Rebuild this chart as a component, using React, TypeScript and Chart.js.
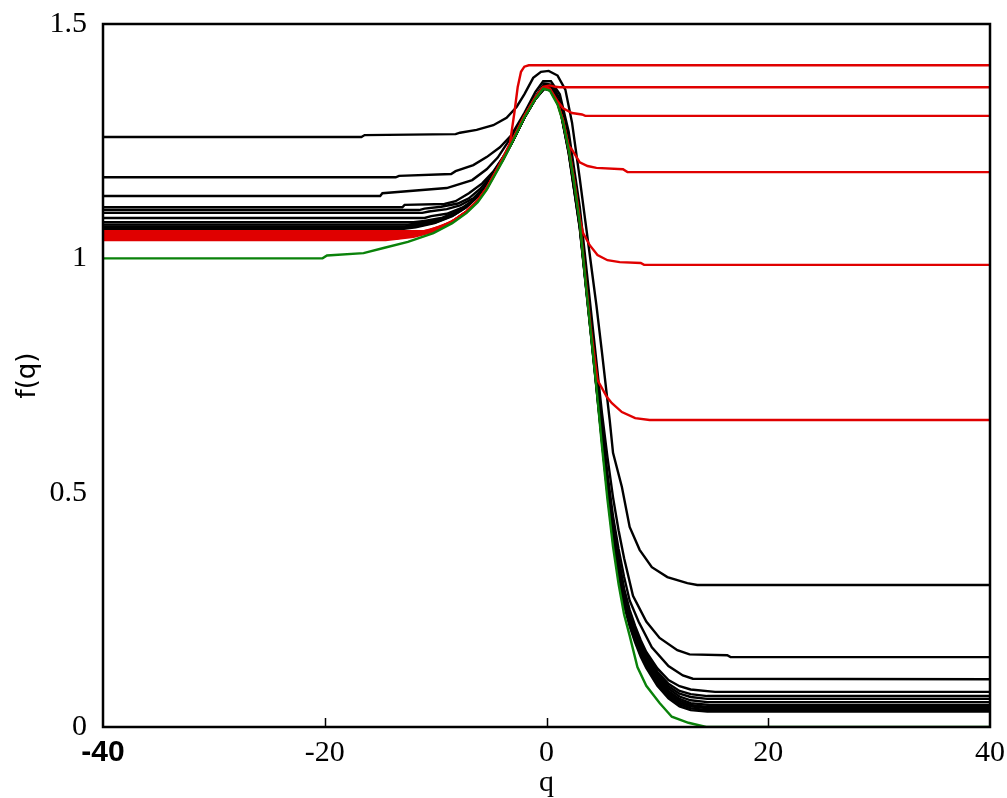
import React, { useEffect, useRef } from "react";
import { Chart, registerables } from "chart.js";

Chart.register(...registerables);

// ---- axis ranges and ticks ----
const X_MIN = -40;
const X_MAX = 40;
const X_STEP = 20;
const Y_MIN = 0;
const Y_MAX = 1.5;
const Y_STEP = 0.5;
const X_TITLE = "q";
const Y_TITLE = "f(q)";

// ---- series: [q, f(q)] ----
const greenCurve: number[][] = [
  [-40, 1.0], [-20.2, 1.0], [-19.8, 1.006], [-16.5, 1.011], [-14.7, 1.022], [-12.5, 1.035],
  [-10.2, 1.054], [-8.5, 1.075], [-7.2, 1.097], [-6.2, 1.12], [-5.4, 1.146], [-4.6, 1.18],
  [-3.9, 1.21], [-3, 1.252], [-2, 1.3], [-1, 1.34], [-0.3, 1.362], [0.3, 1.358], [1, 1.328],
  [1.5, 1.29], [2, 1.232], [2.5, 1.16], [3, 1.075], [3.5, 0.955], [4, 0.84], [4.5, 0.726],
  [5, 0.6], [5.5, 0.485], [6, 0.385], [6.5, 0.305], [7, 0.24], [7.5, 0.195], [8.2, 0.128],
  [9, 0.088], [10.2, 0.051], [11.3, 0.022], [12.8, 0.009], [14.4, 0], [40, 0],
];

const red1: number[][] = [
  [-40, 1.058], [-11, 1.058], [-9.5, 1.068], [-8.3, 1.082], [-7.2, 1.1], [-6.2, 1.124],
  [-5.4, 1.15], [-4.6, 1.184], [-3.9, 1.216], [-3.3, 1.245], [-2.9, 1.31], [-2.6, 1.365],
  [-2.3, 1.398], [-2.0, 1.409], [-1.6, 1.412], [40, 1.412],
];
const red2: number[][] = [
  [-40, 1.054], [-12, 1.054], [-10, 1.062], [-8.5, 1.078], [-7.2, 1.1], [-6.2, 1.123],
  [-5.4, 1.149], [-4.6, 1.183], [-3.9, 1.213], [-3, 1.255], [-2, 1.303], [-1, 1.343],
  [-0.3, 1.366], [0.3, 1.369], [0.8, 1.366], [1.2, 1.365], [40, 1.365],
];
const red3: number[][] = [
  [-40, 1.05], [-12.5, 1.05], [-10.5, 1.058], [-8.6, 1.077], [-7.2, 1.1], [-6.2, 1.123],
  [-5.4, 1.149], [-4.6, 1.183], [-3.9, 1.213], [-3, 1.255], [-2, 1.303], [-1, 1.343],
  [-0.3, 1.365], [0.3, 1.362], [1, 1.335], [1.5, 1.32], [2.3, 1.31], [3.2, 1.307],
  [3.5, 1.304], [40, 1.304],
];
const red4: number[][] = [
  [-40, 1.046], [-13, 1.046], [-10.7, 1.057], [-8.6, 1.077], [-7.2, 1.1], [-6.2, 1.123],
  [-5.4, 1.149], [-4.6, 1.183], [-3.9, 1.213], [-3, 1.255], [-2, 1.303], [-1, 1.343],
  [-0.3, 1.365], [0.3, 1.361], [1, 1.33], [1.5, 1.293], [2, 1.24], [2.3, 1.232],
  [3, 1.205], [3.7, 1.197], [4.5, 1.193], [6.9, 1.19], [7.3, 1.184], [40, 1.184],
];
const red5: number[][] = [
  [-40, 1.042], [-13.5, 1.042], [-11, 1.056], [-8.6, 1.077], [-7.2, 1.1], [-6.2, 1.123],
  [-5.4, 1.149], [-4.6, 1.183], [-3.9, 1.213], [-3, 1.255], [-2, 1.303], [-1, 1.343],
  [-0.3, 1.365], [0.3, 1.361], [1, 1.331], [1.5, 1.293], [2, 1.236], [2.5, 1.165],
  [3, 1.085], [3.3, 1.054], [3.9, 1.028], [4.6, 1.007], [5.5, 0.996], [6.6, 0.992],
  [8.5, 0.99], [8.8, 0.986], [40, 0.986],
];
const red6: number[][] = [
  [-40, 1.039], [-14.5, 1.039], [-12, 1.046], [-10.2, 1.057], [-8.6, 1.077], [-7.2, 1.1],
  [-6.2, 1.123], [-5.4, 1.149], [-4.6, 1.183], [-3.9, 1.213], [-3, 1.255], [-2, 1.303],
  [-1, 1.343], [-0.3, 1.365], [0.3, 1.361], [1, 1.331], [1.5, 1.293], [2, 1.236],
  [2.5, 1.165], [3, 1.08], [3.5, 0.962], [4, 0.85], [4.6, 0.74], [5.45, 0.704],
  [5.9, 0.691], [6.8, 0.672], [8, 0.659], [9.3, 0.655], [40, 0.655],
];

const black1: number[][] = [
  [-40, 1.259], [-16.7, 1.259], [-16.4, 1.263], [-8.2, 1.265], [-7.8, 1.268], [-6.3, 1.274],
  [-4.8, 1.284], [-3.6, 1.3], [-2.7, 1.323], [-2, 1.35], [-1.2, 1.385], [-0.5, 1.398],
  [0.2, 1.4], [1, 1.39], [1.7, 1.36], [2.3, 1.29], [3, 1.17], [3.5, 1.08], [4, 0.99],
  [4.5, 0.9], [5, 0.8], [5.7, 0.655], [6, 0.585], [6.8, 0.512], [7.5, 0.427], [8.4, 0.378],
  [9.5, 0.341], [10.9, 0.32], [12.7, 0.307], [13.6, 0.303], [40, 0.303],
];
const black2: number[][] = [
  [-40, 1.173], [-13.6, 1.173], [-13.3, 1.176], [-8.6, 1.18], [-8.2, 1.186], [-6.6, 1.199],
  [-5.4, 1.216], [-4.2, 1.237], [-3.2, 1.262], [-2, 1.31], [-1, 1.355], [-0.3, 1.378],
  [0.4, 1.378], [1.2, 1.35], [2, 1.27], [3, 1.11], [4, 0.89], [5, 0.67], [5.5, 0.575],
  [6, 0.49], [6.5, 0.42], [7, 0.36], [7.8, 0.28], [9, 0.225], [10.2, 0.19], [11.8, 0.164],
  [12.9, 0.155], [16.3, 0.153], [16.6, 0.149], [40, 0.149],
];
const black3: number[][] = [
  [-40, 1.133], [-15, 1.133], [-14.8, 1.139], [-9, 1.15], [-6.7, 1.167], [-5.4, 1.19],
  [-4.4, 1.215], [-3.2, 1.258], [-2, 1.305], [-1, 1.345], [-0.2, 1.373], [0.5, 1.37],
  [1.2, 1.34], [2, 1.255], [3, 1.095], [4, 0.87], [5, 0.645], [5.5, 0.54], [6, 0.45],
  [6.5, 0.38], [7, 0.32], [7.5, 0.27], [8.3, 0.225], [9.5, 0.17], [11, 0.13], [12.3, 0.11],
  [13.2, 0.103], [40, 0.102],
];
const black4: number[][] = [
  [-40, 1.109], [-13, 1.109], [-12.8, 1.114], [-9.2, 1.116], [-8.2, 1.122], [-7, 1.139],
  [-5.8, 1.16], [-4.8, 1.185], [-3.8, 1.22], [-3, 1.255], [-2, 1.302], [-1, 1.343],
  [-0.2, 1.37], [0.5, 1.365], [1.2, 1.33], [2, 1.245], [3, 1.085], [4, 0.86], [5, 0.635],
  [5.5, 0.525], [6, 0.43], [6.5, 0.36], [7, 0.295], [7.5, 0.25], [8, 0.215], [8.5, 0.185],
  [9, 0.16], [10, 0.125], [11, 0.1], [12, 0.087], [13, 0.08], [15.2, 0.075], [40, 0.075],
];
const black5: number[][] = [
  [-40, 1.103], [-11.5, 1.103], [-11, 1.106], [-9.5, 1.11], [-8, 1.117], [-7, 1.128],
  [-6, 1.148], [-5, 1.175], [-4, 1.212], [-3, 1.254], [-2, 1.301], [-1, 1.342],
  [-0.2, 1.368], [0.5, 1.363], [1.2, 1.328], [2, 1.24], [3, 1.08], [4, 0.855], [5, 0.63],
  [5.5, 0.52], [6, 0.425], [6.5, 0.355], [7, 0.29], [7.5, 0.245], [8, 0.21], [8.5, 0.18],
  [9, 0.155], [10, 0.118], [11, 0.092], [12, 0.077], [13, 0.07], [14.5, 0.066], [40, 0.066],
];
const black6: number[][] = [
  [-40, 1.097], [-11.2, 1.097], [-10.6, 1.1], [-9, 1.105], [-7.8, 1.113], [-6.6, 1.128],
  [-5.6, 1.152], [-4.6, 1.185], [-3.8, 1.218], [-3, 1.253], [-2, 1.3], [-1, 1.341],
  [-0.2, 1.367], [0.5, 1.362], [1.2, 1.327], [2, 1.238], [3, 1.078], [4, 0.852], [5, 0.627],
  [5.5, 0.517], [6, 0.42], [6.5, 0.35], [7, 0.285], [7.5, 0.24], [8, 0.205], [8.5, 0.175],
  [9, 0.15], [10, 0.113], [11, 0.087], [12, 0.071], [13, 0.064], [14.5, 0.06], [40, 0.06],
];
const black7: number[][] = [
  [-40, 1.086], [-11, 1.086], [-10.4, 1.09], [-9, 1.095], [-7.6, 1.108], [-6.5, 1.125],
  [-5.5, 1.15], [-4.6, 1.183], [-3.8, 1.217], [-3, 1.252], [-2, 1.3], [-1, 1.34],
  [-0.2, 1.366], [0.5, 1.361], [1.2, 1.326], [2, 1.235], [3, 1.075], [4, 0.85], [5, 0.624],
  [5.5, 0.513], [6, 0.415], [6.5, 0.345], [7, 0.28], [7.5, 0.235], [8, 0.2], [8.5, 0.17],
  [9, 0.146], [10, 0.108], [11, 0.082], [12, 0.065], [13, 0.057], [14.5, 0.053], [40, 0.053],
];
const black8: number[][] = [
  [-40, 1.077], [-12, 1.077], [-11, 1.08], [-9.5, 1.086], [-8, 1.1], [-6.8, 1.12],
  [-5.6, 1.148], [-4.6, 1.183], [-3.8, 1.216], [-3, 1.252], [-2, 1.3], [-1, 1.34],
  [-0.2, 1.365], [0.5, 1.36], [1.2, 1.325], [2, 1.232], [3, 1.072], [4, 0.848], [5, 0.621],
  [5.5, 0.51], [6, 0.41], [6.5, 0.34], [7, 0.276], [7.5, 0.231], [8, 0.196], [8.5, 0.166],
  [9, 0.142], [10, 0.104], [11, 0.077], [12, 0.06], [13, 0.051], [14.7, 0.047], [40, 0.047],
];
const black9: number[][] = [
  [-40, 1.072], [-12.5, 1.072], [-11.2, 1.076], [-9.6, 1.083], [-8.2, 1.096], [-7, 1.115],
  [-5.8, 1.142], [-4.8, 1.176], [-3.9, 1.213], [-3, 1.252], [-2, 1.3], [-1, 1.34],
  [-0.2, 1.364], [0.5, 1.359], [1.2, 1.324], [2, 1.23], [3, 1.07], [4, 0.845], [5, 0.618],
  [5.5, 0.507], [6, 0.406], [6.5, 0.336], [7, 0.272], [7.5, 0.227], [8, 0.192], [8.5, 0.162],
  [9, 0.138], [10, 0.1], [11, 0.073], [12, 0.056], [13, 0.047], [14.5, 0.043], [40, 0.043],
];
const black10: number[][] = [
  [-40, 1.068], [-12.8, 1.068], [-11.4, 1.072], [-9.8, 1.08], [-8.3, 1.094], [-7.1, 1.113],
  [-5.9, 1.14], [-4.9, 1.174], [-3.9, 1.212], [-3, 1.252], [-2, 1.3], [-1, 1.34],
  [-0.2, 1.363], [0.5, 1.358], [1.2, 1.323], [2, 1.228], [3, 1.068], [4, 0.843], [5, 0.615],
  [5.5, 0.504], [6, 0.403], [6.5, 0.332], [7, 0.268], [7.5, 0.223], [8, 0.188], [8.5, 0.158],
  [9, 0.134], [10, 0.096], [11, 0.069], [12, 0.052], [13, 0.044], [14.5, 0.04], [40, 0.04],
];
const black11: number[][] = [
  [-40, 1.065], [-13, 1.065], [-11.6, 1.069], [-10, 1.077], [-8.4, 1.092], [-7.2, 1.11],
  [-6, 1.137], [-5, 1.171], [-4, 1.21], [-3, 1.252], [-2, 1.3], [-1, 1.34],
  [-0.2, 1.362], [0.5, 1.357], [1.2, 1.322], [2, 1.226], [3, 1.066], [4, 0.841], [5, 0.612],
  [5.5, 0.501], [6, 0.4], [6.5, 0.328], [7, 0.264], [7.5, 0.219], [8, 0.184], [8.5, 0.154],
  [9, 0.13], [10, 0.092], [11, 0.065], [12, 0.048], [13, 0.04], [14.5, 0.036], [40, 0.036],
];
const black12: number[][] = [
  [-40, 1.062], [-13.2, 1.062], [-11.8, 1.066], [-10.1, 1.075], [-8.5, 1.09], [-7.3, 1.108],
  [-6.1, 1.135], [-5.1, 1.169], [-4.1, 1.208], [-3, 1.252], [-2, 1.3], [-1, 1.34],
  [-0.2, 1.362], [0.5, 1.357], [1.2, 1.321], [2, 1.224], [3, 1.064], [4, 0.839], [5, 0.609],
  [5.5, 0.498], [6, 0.397], [6.5, 0.324], [7, 0.26], [7.5, 0.215], [8, 0.18], [8.5, 0.15],
  [9, 0.126], [10, 0.088], [11, 0.061], [12, 0.044], [13, 0.036], [14.5, 0.033], [40, 0.033],
];

const greenSeries = [greenCurve];
const redSeries = [red1, red2, red3, red4, red5, red6];
const blackSeries = [
  black1, black2, black3, black4, black5, black6,
  black7, black8, black9, black10, black11, black12,
];

const GREEN = "#0a820a";
const RED = "#e00000";
const BLACK = "#000000";
const LINE_W = 2.4;

const toXY = (pts: number[][]) => pts.map(([x, y]) => ({ x, y }));

const zeroPadding = (scale: any) => {
  scale.paddingLeft = 0;
  scale.paddingRight = 0;
  scale.paddingTop = 0;
  scale.paddingBottom = 0;
};

const framePlugin = {
  id: "frame",
  afterDatasetsDraw(chart: any) {
    const { ctx, chartArea, scales } = chart;
    const { left, right, top, bottom } = chartArea;
    ctx.save();
    ctx.strokeStyle = "#000";
    ctx.lineWidth = 2.5;
    ctx.strokeRect(left, top, right - left, bottom - top);
    ctx.lineWidth = 1.5;
    const xs = scales.x;
    for (const t of xs.ticks) {
      if (t.value === X_MIN || t.value === X_MAX) continue;
      const px = Math.round(xs.getPixelForValue(t.value)) + 0.5;
      ctx.beginPath();
      ctx.moveTo(px, bottom);
      ctx.lineTo(px, bottom - 9);
      ctx.stroke();
    }
    ctx.restore();
  },
};

export default function App() {
  const canvasRef = useRef<HTMLCanvasElement | null>(null);

  useEffect(() => {
    const canvas = canvasRef.current;
    if (!canvas) return;
    const datasets: any[] = [];
    greenSeries.forEach((s) =>
      datasets.push({ data: toXY(s), borderColor: GREEN, borderWidth: LINE_W })
    );
    redSeries.forEach((s) =>
      datasets.push({ data: toXY(s), borderColor: RED, borderWidth: LINE_W })
    );
    blackSeries.forEach((s) =>
      datasets.push({ data: toXY(s), borderColor: BLACK, borderWidth: LINE_W })
    );
    datasets.forEach((d) => {
      d.pointRadius = 0;
      d.tension = 0;
      d.fill = false;
    });

    const chart = new Chart(canvas, {
      type: "line",
      data: { datasets },
      plugins: [framePlugin],
      options: {
        animation: false,
        responsive: false,
        devicePixelRatio: 1,
        layout: { padding: { top: 24, right: 17, left: 0, bottom: 0 } },
        plugins: { legend: { display: false }, tooltip: { enabled: false } },
        scales: {
          x: {
            type: "linear",
            min: X_MIN,
            max: X_MAX,
            ticks: {
              stepSize: X_STEP,
              color: "#000",
              padding: 8,
              maxRotation: 0,
              font: (ctx: any) =>
                ctx.tick && ctx.tick.value === X_MIN
                  ? { family: "'Liberation Sans', Arial, sans-serif", size: 30, weight: "bold" }
                  : { family: "'Liberation Serif', 'Times New Roman', serif", size: 30 },
            },
            grid: { display: false, drawTicks: false },
            border: { display: false },
            title: {
              display: true,
              text: X_TITLE,
              color: "#000",
              font: { family: "'Liberation Serif', 'Times New Roman', serif", size: 30 },
              padding: { top: 0, bottom: -3 },
            },
            afterFit: (scale: any) => {
              scale.height = 71;
              zeroPadding(scale);
            },
          },
          y: {
            type: "linear",
            min: Y_MIN,
            max: Y_MAX,
            ticks: {
              stepSize: Y_STEP,
              color: "#000",
              padding: 16,
              font: { family: "'Liberation Serif', 'Times New Roman', serif", size: 30 },
              callback: (v: any) => String(Math.round(Number(v) * 10) / 10),
            },
            grid: { display: false, drawTicks: false },
            border: { display: false },
            title: {
              display: true,
              text: Y_TITLE,
              color: "#000",
              font: { family: "'DejaVu Sans', sans-serif", size: 26 },
              padding: { top: 13, bottom: 0 },
            },
            afterFit: (scale: any) => {
              scale.width = 103;
              zeroPadding(scale);
            },
          },
        },
      },
    });
    return () => chart.destroy();
  }, []);

  return (
    <div style={{ position: "absolute", left: 0, top: 0, width: 1007, height: 798, background: "#fff" }}>
      <canvas ref={canvasRef} width={1007} height={798} style={{ display: "block" }} />
    </div>
  );
}
